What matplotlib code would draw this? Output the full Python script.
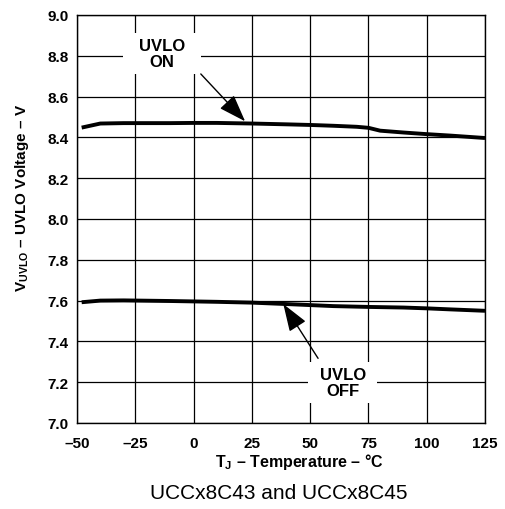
import matplotlib
matplotlib.use("Agg")
import matplotlib.pyplot as plt
from matplotlib.patches import Rectangle

plt.rcParams['font.family'] = ['Liberation Sans', 'DejaVu Sans']
plt.rcParams['mathtext.fontset'] = 'custom'
plt.rcParams['mathtext.rm'] = 'Liberation Sans'
plt.rcParams['mathtext.bf'] = 'Liberation Sans:bold'

# data
temp_on = [-48, -40, -30, -10, 0, 10, 25, 40, 50, 60, 70, 75, 80, 90, 100, 110, 125]
uvlo_on = [8.448, 8.468, 8.470, 8.470, 8.471, 8.471, 8.468, 8.464, 8.461, 8.457, 8.452, 8.447, 8.433, 8.424, 8.416, 8.409, 8.397]

temp_off = [-48, -40, -30, -10, 0, 10, 25, 40, 50, 60, 75, 90, 100, 110, 125]
uvlo_off = [7.592, 7.600, 7.601, 7.598, 7.596, 7.594, 7.590, 7.583, 7.578, 7.573, 7.569, 7.566, 7.562, 7.557, 7.550]

x_ticks = [-50, -25, 0, 25, 50, 75, 100, 125]
y_ticks = [7.0, 7.2, 7.4, 7.6, 7.8, 8.0, 8.2, 8.4, 8.6, 8.8, 9.0]

DASH = '\u2013'

fig = plt.figure(figsize=(5.05, 5.10), dpi=100)
ax = fig.add_axes([77 / 505, 1 - 424 / 510, 408 / 505, 408 / 510])

ax.plot(temp_on, uvlo_on, color='black', lw=2.8, solid_capstyle='butt', zorder=3)
ax.plot(temp_off, uvlo_off, color='black', lw=2.8, solid_capstyle='butt', zorder=3)

ax.set_xlim(-50, 125)
ax.set_ylim(7.0, 9.0)
ax.set_xticks(x_ticks)
ax.set_yticks(y_ticks)
ax.set_xticklabels([str(v).replace('-', DASH) for v in x_ticks])
ax.set_yticklabels([f'{v:.1f}' for v in y_ticks])
ax.grid(True, color='black', lw=0.9)
ax.set_axisbelow(True)
ax.tick_params(length=0, labelsize=11)
ax.tick_params(axis='x', pad=9)
ax.tick_params(axis='y', pad=6)
for lab in ax.get_xticklabels() + ax.get_yticklabels():
    lab.set_fontweight('bold')
for sp in ax.spines.values():
    sp.set_linewidth(1.0)
    sp.set_zorder(5)

# white boxes behind the callouts
ax.add_patch(Rectangle((-30.3, 8.711), 33.5, 0.20, fc='white', ec='none', zorder=2))
ax.add_patch(Rectangle((49.1, 7.098), 29.6, 0.20, fc='white', ec='none', zorder=2))

txt = dict(ha='center', va='center', fontsize=12, fontweight='bold',
           linespacing=1.05, zorder=4)
ax.text(-13.5, 8.81, 'UVLO\nON', **txt)
ax.text(64, 7.20, 'UVLO\nOFF', **txt)

arrow = dict(arrowstyle='-|>,head_length=0.85,head_width=0.3', color='black',
             lw=1.0, mutation_scale=20, shrinkA=0, shrinkB=0)
ax.annotate('', xy=(22.1, 8.479), xytext=(3.1, 8.711), arrowprops=arrow, zorder=4)
ax.annotate('', xy=(38.5, 7.583), xytext=(53.4, 7.317), arrowprops=arrow, zorder=4)

ax.set_xlabel(r'T$_{\mathbf{J}}$ ' + DASH + ' Temperature ' + DASH + ' °C',
              fontsize=11.5, fontweight='bold')
ax.xaxis.label.set_va('center')
ax.xaxis.set_label_coords((299 - 77) / 408, (424 - 462) / 408)
ax.set_ylabel(r'V$_{\mathbf{UVLO}}$ ' + DASH + ' UVLO Voltage ' + DASH + ' V',
              fontsize=11, fontweight='bold')
ax.yaxis.label.set_va('center')
ax.yaxis.set_label_coords((22 - 77) / 408, (424 - 198) / 408)

fig.text(279 / 505, 1 - 494 / 510, 'UCCx8C43 and UCCx8C45', ha='center',
         va='center', fontsize=15)

fig.savefig('out.png', dpi=100)
